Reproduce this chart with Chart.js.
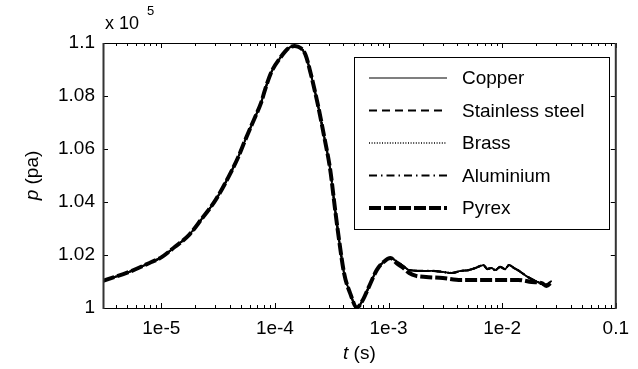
<!DOCTYPE html>
<html><head><meta charset="utf-8">
<script src="https://cdn.jsdelivr.net/npm/chart.js@4/dist/chart.umd.min.js"></script>
<style>html,body{margin:0;padding:0;background:#fff;}#wrap{width:638px;height:369px;}</style>
</head><body><div id="wrap"><canvas id="c" width="638" height="369"></canvas></div>
<script>
// ---- data (t in seconds, p in units of 1e5 Pa) ----
const seriesNames = ['Copper', 'Stainless steel', 'Brass', 'Aluminium', 'Pyrex'];
const tCommon = [3.07e-6, 5.27e-6, 7.87e-6, 1.0e-5, 1.32e-5, 1.75e-5, 2.23e-5, 3.01e-5, 3.90e-5, 4.76e-5, 5.48e-5, 6.70e-5, 7.55e-5, 8.18e-5, 9.23e-5, 1.127e-4, 1.324e-4, 1.493e-4, 1.683e-4, 1.862e-4, 2.06e-4, 2.37e-4, 2.72e-4, 3.07e-4, 3.39e-4, 3.67e-4, 4.06e-4, 4.58e-4, 5.27e-4, 5.94e-4, 6.70e-4, 7.87e-4, 9.05e-4, 1.04e-3];
const pCommon = [1.0102, 1.0137, 1.0170, 1.0191, 1.0231, 1.0275, 1.0332, 1.0408, 1.0494, 1.0570, 1.0634, 1.0721, 1.0774, 1.0823, 1.0887, 1.0947, 1.0981, 1.0989, 1.0981, 1.0955, 1.0887, 1.0774, 1.0645, 1.0521, 1.0370, 1.0257, 1.0132, 1.0057, 1.0002, 1.0030, 1.0079, 1.0143, 1.0174, 1.0189];
const tTailMetal = [1.17e-3, 1.35e-3, 1.52e-3, 1.94e-3, 2.46e-3, 3.01e-3, 3.60e-3, 4.32e-3, 5.06e-3, 5.82e-3, 6.84e-3, 7.41e-3, 8.02e-3, 8.69e-3, 9.61e-3, 1.06e-2, 1.15e-2, 1.27e-2, 1.41e-2, 1.68e-2, 2.06e-2, 2.41e-2, 2.72e-2];
const pTailMetal = [1.0177, 1.0158, 1.0143, 1.0140, 1.0140, 1.0136, 1.0132, 1.0140, 1.0143, 1.0151, 1.0162, 1.0147, 1.0151, 1.0143, 1.0155, 1.0147, 1.0162, 1.0151, 1.0140, 1.0117, 1.0098, 1.0087, 1.0102];
const tTailPyrex = [1.17e-3, 1.35e-3, 1.52e-3, 1.75e-3, 2.14e-3, 3.01e-3, 4.32e-3, 5.82e-3, 8.69e-3, 1.38e-2, 1.82e-2, 2.23e-2, 2.46e-2, 2.72e-2];
const pTailPyrex = [1.0170, 1.0151, 1.0132, 1.0121, 1.0117, 1.0113, 1.0106, 1.0106, 1.0106, 1.0106, 1.0098, 1.0094, 1.0083, 1.0098];
const xTickValues = [1e-5, 1e-4, 1e-3, 1e-2, 0.1];
const xTickLabels = ['1e-5', '1e-4', '1e-3', '1e-2', '0.1'];
const yTickValues = [1, 1.02, 1.04, 1.06, 1.08, 1.1];
const yTickLabels = ['1', '1.02', '1.04', '1.06', '1.08', '1.1'];

const FONT = "'Liberation Sans', Arial, Helvetica, sans-serif";
function pts(ts, ps) { return ts.map((t, i) => ({x: t, y: ps[i]})); }
const metalData = pts(tCommon.concat(tTailMetal), pCommon.concat(pTailMetal));
const pyrexData = pts(tCommon.concat(tTailPyrex), pCommon.concat(pTailPyrex));

const styles = [
  {w: 1.8, lw: 1.2, dash: []},
  {w: 2, lw: 1.8, dash: [8, 5]},
  {w: 2, lw: 1.4, dash: [1, 1.6]},
  {w: 2.2, lw: 1.8, dash: [8, 4, 1.5, 4]},
  {w: 4, lw: 4, dash: [12, 3]}
];
const datasets = seriesNames.map((name, i) => ({
  label: name,
  data: i === 4 ? pyrexData : metalData,
  borderColor: '#000',
  borderWidth: styles[i].w,
  borderDash: styles[i].dash,
  pointRadius: 0,
  fill: false,
  tension: 0.3,
  cubicInterpolationMode: 'monotone'
}));

// minor + major x ticks
const xAll = [];
for (let e = -6; e <= -2; e++) for (let m = 1; m <= 9; m++) {
  const v = m * Math.pow(10, e);
  if (v >= 3.07e-6 && v <= 0.1) xAll.push(v);
}
xAll.push(0.1);
function xLabelFor(v) {
  for (let i = 0; i < xTickValues.length; i++)
    if (Math.abs(Math.log10(v) - Math.log10(xTickValues[i])) < 1e-6) return xTickLabels[i];
  return '';
}

const decor = {
  id: 'decor',
  afterDatasetsDraw(chart) {
    const ctx = chart.ctx, a = chart.chartArea, xs = chart.scales.x, ys = chart.scales.y;
    ctx.save();
    ctx.strokeStyle = '#000'; ctx.lineWidth = 1;
    xAll.forEach(v => {
      const px = Math.round(xs.getPixelForValue(v)) + 0.5;
      const len = xLabelFor(v) ? 5 : 3;
      ctx.beginPath();
      ctx.moveTo(px, a.bottom); ctx.lineTo(px, a.bottom - len);
      ctx.moveTo(px, a.top); ctx.lineTo(px, a.top + len);
      ctx.stroke();
    });
    yTickValues.forEach(v => {
      const py = Math.round(ys.getPixelForValue(v)) + 0.5;
      ctx.beginPath();
      ctx.moveTo(a.left, py); ctx.lineTo(a.left + 5, py);
      ctx.moveTo(a.right, py); ctx.lineTo(a.right - 5, py);
      ctx.stroke();
    });
    ctx.lineWidth = 1; ctx.strokeStyle = '#000';
    ctx.beginPath();
    ctx.moveTo(a.left, a.top + 0.5); ctx.lineTo(a.right, a.top + 0.5);
    ctx.moveTo(a.left, a.bottom + 0.5); ctx.lineTo(a.right, a.bottom + 0.5);
    ctx.stroke();
    ctx.lineWidth = 2; ctx.strokeStyle = '#333';
    ctx.beginPath();
    ctx.moveTo(a.left + 0.5, a.top); ctx.lineTo(a.left + 0.5, a.bottom + 1);
    ctx.moveTo(a.right, a.top); ctx.lineTo(a.right, a.bottom + 1);
    ctx.stroke();

    // legend
    const lx = 354.5, ly = 57.5, lw = 255, lh = 172;
    ctx.fillStyle = '#fff'; ctx.fillRect(lx, ly, lw, lh);
    ctx.strokeStyle = '#000'; ctx.lineWidth = 1; ctx.setLineDash([]);
    ctx.strokeRect(lx, ly, lw, lh);
    ctx.font = '19px ' + FONT; ctx.textBaseline = 'middle'; ctx.textAlign = 'left';
    chart.data.datasets.forEach((ds, i) => {
      const y = 78 + i * 32.5;
      ctx.save();
      ctx.strokeStyle = '#000'; ctx.lineWidth = styles[i].lw; ctx.setLineDash(ds.borderDash);
      ctx.beginPath(); ctx.moveTo(369, y); ctx.lineTo(447, y); ctx.stroke();
      ctx.restore();
      ctx.fillStyle = '#000';
      ctx.fillText(ds.label, 462, y + 1);
    });

    // axis titles
    ctx.fillStyle = '#000'; ctx.textBaseline = 'middle';
    const drawMixed = (parts, cx, cy) => {
      let total = 0;
      parts.forEach(p => { ctx.font = p.f; total += ctx.measureText(p.s).width; });
      let x = cx - total / 2;
      parts.forEach(p => { ctx.font = p.f; ctx.textAlign = 'left'; ctx.fillText(p.s, x, cy); x += ctx.measureText(p.s).width; });
    };
    drawMixed([{s: 't', f: 'italic 19px ' + FONT}, {s: ' (s)', f: '19px ' + FONT}], (a.left + a.right) / 2, 354);
    ctx.save();
    ctx.translate(33, (a.top + a.bottom) / 2); ctx.rotate(-Math.PI / 2);
    drawMixed([{s: 'p', f: 'italic 19px ' + FONT}, {s: ' (pa)', f: '19px ' + FONT}], 0, 0);
    ctx.restore();
    ctx.textAlign = 'left'; ctx.textBaseline = 'alphabetic';
    ctx.font = '18px ' + FONT; ctx.fillText('x 10', 105, 29);
    ctx.font = '13px ' + FONT; ctx.fillText('5', 147, 15);
    ctx.restore();
  }
};

new Chart(document.getElementById('c'), {
  type: 'line',
  data: {datasets},
  options: {
    responsive: false, animation: false, devicePixelRatio: 1,
    layout: {padding: {top: 43, right: 16, left: 0, bottom: 0}},
    plugins: {legend: {display: false}, tooltip: {enabled: false}},
    scales: {
      x: {
        type: 'logarithmic', min: 3.07e-6, max: 0.1,
        afterBuildTicks: s => { s.ticks = xAll.map(v => ({value: v})); },
        afterFit: s => { s.height = 61; },
        grid: {display: false, drawTicks: false}, border: {display: false},
        ticks: {autoSkip: false, maxRotation: 0, padding: 9, color: '#000', font: {family: FONT, size: 19},
          callback: v => xLabelFor(v)}
      },
      y: {
        type: 'linear', min: 1, max: 1.1,
        afterBuildTicks: s => { s.ticks = yTickValues.map(v => ({value: v})); },
        afterFit: s => { s.width = 103; },
        grid: {display: false, drawTicks: false}, border: {display: false},
        ticks: {padding: 8, color: '#000', font: {family: FONT, size: 19},
          callback: (v, i) => yTickLabels[i]}
      }
    }
  },
  plugins: [decor]
});
</script></body></html>
